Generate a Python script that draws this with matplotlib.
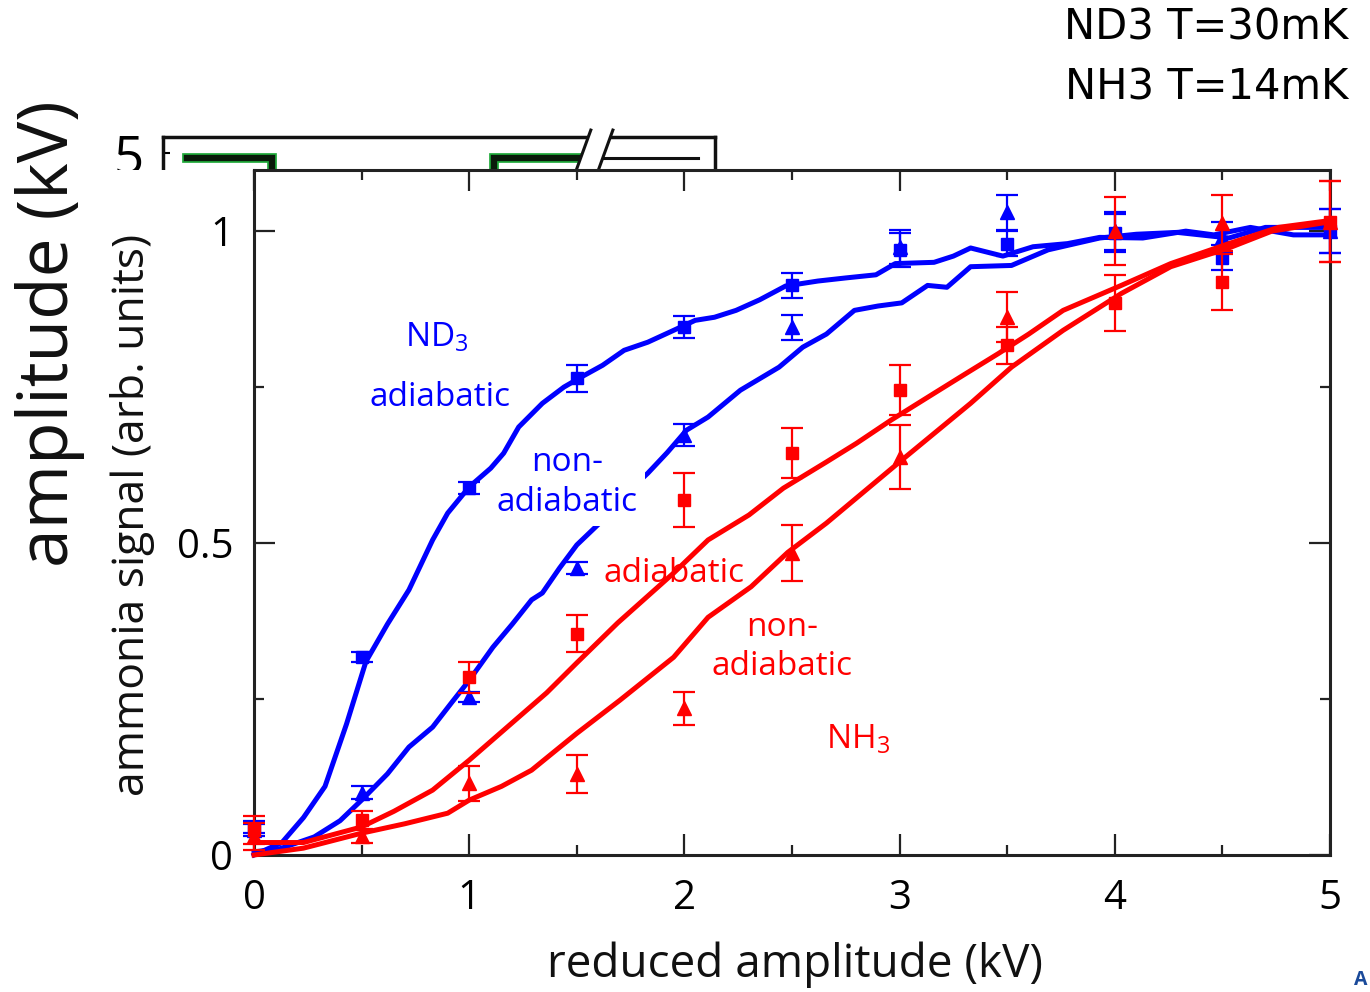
import matplotlib
matplotlib.use("Agg")
import matplotlib.pyplot as plt
import matplotlib.patheffects as pe
from matplotlib.patches import Rectangle, Polygon
from matplotlib.ticker import MultipleLocator, FixedLocator, FuncFormatter

plt.rcParams['font.family'] = ['Open Sans', 'DejaVu Sans']
plt.rcParams['mathtext.default'] = 'regular'

# ---------------- data ----------------
x_pts = [0, 0.5, 1, 1.5, 2, 2.5, 3, 3.5, 4, 4.5, 5]
nd3_ad = [0.045, 0.317, 0.588, 0.764, 0.846, 0.913, 0.97, 0.98, 0.997, 0.957, 1.0]
nd3_ad_err = [0.01, 0.008, 0.01, 0.022, 0.018, 0.02, 0.027, 0.02, 0.03, 0.02, 0.035]
nd3_na = [0.04, 0.10, 0.254, 0.46, 0.673, 0.846, 0.975, 1.03, 1.0, 0.99, 1.0]
nd3_na_err = [0.01, 0.01, 0.008, 0.01, 0.018, 0.02, 0.027, 0.028, 0.03, 0.025, 0.035]
nh3_ad = [0.04, 0.056, 0.285, 0.355, 0.569, 0.644, 0.745, 0.817, 0.885, 0.918, 1.015]
nh3_ad_err = [0.022, 0.015, 0.025, 0.03, 0.043, 0.04, 0.04, 0.03, 0.045, 0.045, 0.065]
nh3_na = [0.03, 0.03, 0.115, 0.13, 0.235, 0.484, 0.638, 0.862, 1.0, 1.013, 1.015]
nh3_na_err = [0.022, 0.01, 0.028, 0.03, 0.027, 0.045, 0.052, 0.04, 0.055, 0.045, 0.065]

# simulation curves
nd3_ad_cx = [0.0, 0.13, 0.23, 0.33, 0.43, 0.52, 0.62, 0.72, 0.83, 0.90, 1.0, 1.10, 1.16, 1.23,
             1.34, 1.44, 1.52, 1.62, 1.72, 1.83, 1.95, 2.05, 2.14, 2.24, 2.35, 2.47, 2.62,
             2.75, 2.89, 2.98, 3.16, 3.25, 3.33, 3.48, 3.62, 3.78, 3.93, 4.13, 4.33, 4.46,
             4.63, 4.83, 5.0]
nd3_ad_cy = [0.0, 0.02, 0.06, 0.11, 0.21, 0.31, 0.37, 0.425, 0.505, 0.548, 0.59, 0.62, 0.644,
             0.686, 0.724, 0.75, 0.766, 0.785, 0.809, 0.822, 0.841, 0.857, 0.862, 0.873, 0.89,
             0.912, 0.92, 0.925, 0.93, 0.948, 0.95, 0.96, 0.973, 0.96, 0.975, 0.98, 0.99,
             0.989, 1.0, 0.994, 1.006, 0.994, 0.994]

nd3_na_cx = [0.0, 0.12, 0.28, 0.40, 0.5, 0.62, 0.72, 0.83, 0.92, 1.0, 1.11, 1.2, 1.29, 1.34,
             1.42, 1.5, 1.6, 1.7, 1.83, 1.92, 2.01, 2.11, 2.26, 2.44, 2.55, 2.66, 2.79, 2.9,
             3.01, 3.13, 3.22, 3.33, 3.52, 3.69, 3.93, 4.1, 4.29, 4.53, 4.70, 5.0]
nd3_na_cy = [0.005, 0.01, 0.029, 0.055, 0.088, 0.13, 0.173, 0.205, 0.245, 0.28, 0.333, 0.37,
             0.409, 0.42, 0.46, 0.497, 0.53, 0.57, 0.612, 0.645, 0.681, 0.702, 0.745, 0.782,
             0.814, 0.835, 0.873, 0.88, 0.885, 0.913, 0.91, 0.943, 0.945, 0.97, 0.989, 0.995,
             0.998, 0.989, 1.006, 1.006]

nh3_ad_cx = [0.0, 0.23, 0.5, 0.65, 0.83, 1.0, 1.16, 1.36, 1.5, 1.69, 1.95, 2.11, 2.3, 2.46,
             2.66, 2.8, 2.96, 3.16, 3.3, 3.46, 3.6, 3.76, 4.03, 4.26, 4.53, 4.76, 5.0]
nh3_ad_cy = [0.02, 0.02, 0.045, 0.07, 0.104, 0.152, 0.2, 0.26, 0.308, 0.372, 0.452, 0.505,
             0.545, 0.588, 0.63, 0.66, 0.697, 0.74, 0.77, 0.804, 0.835, 0.873, 0.913, 0.948,
             0.98, 1.006, 1.017]

nh3_na_cx = [0.0, 0.23, 0.5, 0.7, 0.9, 1.0, 1.15, 1.29, 1.5, 1.7, 1.95, 2.11, 2.31, 2.48,
             2.66, 3.01, 3.33, 3.52, 3.76, 4.03, 4.26, 4.53, 4.73, 5.0]
nh3_na_cy = [0.0, 0.011, 0.035, 0.05, 0.067, 0.088, 0.11, 0.136, 0.195, 0.248, 0.317, 0.381,
             0.43, 0.485, 0.532, 0.633, 0.724, 0.782, 0.841, 0.9, 0.943, 0.973, 1.0, 1.015]

# background slide plot (partially hidden)
bg_pulse1_x = [4.35, 19.75, 19.75]
bg_pulse1_y = [4.88, 4.88, 0.0]
bg_pulse2_x = [60.0, 60.0, 75.5]
bg_pulse2_y = [0.0, 4.88, 4.88]
bg_pulse3_x = [79.7, 96.9]
bg_pulse3_y = [4.88, 4.88]

x_ticklabels = ['0', '1', '2', '3', '4', '5']
y_ticklabels = ['0', '0.5', '1']

BLUE = '#0000ff'
RED = '#ff0000'
W, H = 1370, 992

fig = plt.figure(figsize=(13.7, 9.92), dpi=100)


def fx(px):
    return px / W


def fy(py):
    return 1 - py / H


# ---------------- background axes ----------------
ax_bg = fig.add_axes([fx(163), fy(353), fx(715) - fx(163), fy(137) - fy(353)], zorder=0)
ax_bg.set_xlim(0, 100)
ax_bg.set_ylim(0, 5.4)
for sp in ax_bg.spines.values():
    sp.set_linewidth(2.5)
    sp.set_color('#111111')
ax_bg.set_xticks([])
ax_bg.yaxis.set_major_locator(FixedLocator([5]))
ax_bg.yaxis.set_major_formatter(FuncFormatter(lambda v, p: '%g' % v))
ax_bg.tick_params(axis='y', direction='in', length=5, width=1.5, labelsize=38, pad=14)
stroke = [pe.Stroke(linewidth=7, foreground='#1faa3a'), pe.Normal()]
ax_bg.plot(bg_pulse1_x, bg_pulse1_y, color='#0a1a0a', lw=4.5, path_effects=stroke,
           solid_joinstyle='miter')
ax_bg.plot(bg_pulse2_x, bg_pulse2_y, color='#0a1a0a', lw=4.5, path_effects=stroke,
           solid_joinstyle='miter')
ax_bg.plot(bg_pulse3_x, bg_pulse3_y, color='#111111', lw=2.2)
# axis-break decoration
gap = Polygon([(0.75, 0.856), (0.775, 1.032), (0.815, 1.032), (0.79, 0.856)],
              closed=True, transform=ax_bg.transAxes, facecolor='white',
              edgecolor='none', zorder=5, clip_on=False)
ax_bg.add_patch(gap)
ax_bg.plot([0.75, 0.775], [0.856, 1.032], transform=ax_bg.transAxes, color='#111111',
           lw=2.2, clip_on=False, zorder=6)
ax_bg.plot([0.79, 0.815], [0.856, 1.032], transform=ax_bg.transAxes, color='#111111',
           lw=2.2, clip_on=False, zorder=6)

# white inset image area
fig.patches.append(Rectangle((fx(95), 0), 1 - fx(95), fy(170), transform=fig.transFigure,
                             facecolor='white', edgecolor='none', zorder=1))

# ---------------- main axes ----------------
ax = fig.add_axes([fx(254), fy(855), fx(1330) - fx(254), fy(170) - fy(855)], zorder=2)
ax.set_facecolor('white')
ax.set_xlim(0, 5)
ax.set_ylim(0, 1.098)

ax.xaxis.set_minor_locator(MultipleLocator(0.5))
ax.yaxis.set_minor_locator(MultipleLocator(0.25))
ax.set_xticks(range(len(x_ticklabels)))
ax.set_xticklabels(x_ticklabels)
ax.set_yticks([0, 0.5, 1])
ax.set_yticklabels(y_ticklabels)
ax.tick_params(which='major', direction='in', length=15, width=1.6, color='#222222',
               top=True, right=True, labelsize=29)
ax.tick_params(which='minor', direction='in', length=7.5, width=1.6, color='#222222',
               top=True, right=True)
ax.tick_params(axis='x', which='major', pad=17)
ax.tick_params(axis='y', which='major', pad=15)
for sp in ax.spines.values():
    sp.set_linewidth(2.2)
    sp.set_color('#222222')

lw = 3.6
eb = dict(capsize=8, elinewidth=1.6, capthick=1.6, linestyle='none', clip_on=False)
ax.plot(nd3_na_cx, nd3_na_cy, color=BLUE, lw=lw, zorder=3, clip_on=False)
ax.plot(nd3_ad_cx, nd3_ad_cy, color=BLUE, lw=lw, zorder=5, clip_on=False)
ax.errorbar(x_pts, nd3_ad, yerr=nd3_ad_err, fmt='s', ms=8, color=BLUE, zorder=5, **eb)
ax.errorbar(x_pts, nd3_na, yerr=nd3_na_err, fmt='^', ms=10, color=BLUE, zorder=5, **eb)

ax.plot(nh3_ad_cx, nh3_ad_cy, color=RED, lw=lw, zorder=6, clip_on=False)
ax.plot(nh3_na_cx, nh3_na_cy, color=RED, lw=lw, zorder=6, clip_on=False)
ax.errorbar(x_pts, nh3_ad, yerr=nh3_ad_err, fmt='s', ms=8, color=RED, zorder=6, **eb)
ax.errorbar(x_pts, nh3_na, yerr=nh3_na_err, fmt='^', ms=10, color=RED, zorder=6, **eb)

# annotations
tsize = 24
ax.text(0.85, 0.829, 'ND$_3$', color=BLUE, fontsize=tsize, ha='center', va='center', zorder=7)
ax.text(0.865, 0.734, 'adiabatic', color=BLUE, fontsize=tsize, ha='center', va='center', zorder=7)
ax.text(1.455, 0.597, 'non-\nadiabatic', color=BLUE, fontsize=tsize, ha='center', va='center',
        linespacing=1.25, zorder=4,
        bbox=dict(facecolor='white', edgecolor='none', pad=5))
ax.text(1.952, 0.452, 'adiabatic', color=RED, fontsize=tsize, ha='center', va='center', zorder=7)
ax.text(2.455, 0.333, 'non-\nadiabatic', color=RED, fontsize=tsize, ha='center', va='center',
        linespacing=1.25, zorder=7)
ax.text(2.807, 0.184, 'NH$_3$', color=RED, fontsize=tsize, ha='center', va='center', zorder=7)

# axis labels
fig.text(fx(795), fy(965), 'reduced amplitude (kV)', fontsize=33, ha='center', va='center',
         color='#111111', zorder=3)
fig.text(fx(133), fy(515), 'ammonia signal (arb. units)', fontsize=32, ha='center',
         va='center', rotation=90, color='#111111', zorder=3)
fig.text(fx(50), fy(334), 'amplitude (kV)', fontsize=50, ha='center', va='center',
         rotation=90, color='#111111', zorder=3)

# slide text
fig.text(fx(1348), fy(40), 'ND3 T=30mK', fontsize=30, ha='right', va='baseline',
         family=['DejaVu Sans'], zorder=3)
fig.text(fx(1348), fy(100), 'NH3 T=14mK', fontsize=30, ha='right', va='baseline',
         family=['DejaVu Sans'], zorder=3)
fig.text(fx(1368), fy(990), 'A', fontsize=14, ha='right', va='bottom', weight='bold',
         color='#1a4a9a', zorder=3)

fig.savefig('out.png', dpi=100)
